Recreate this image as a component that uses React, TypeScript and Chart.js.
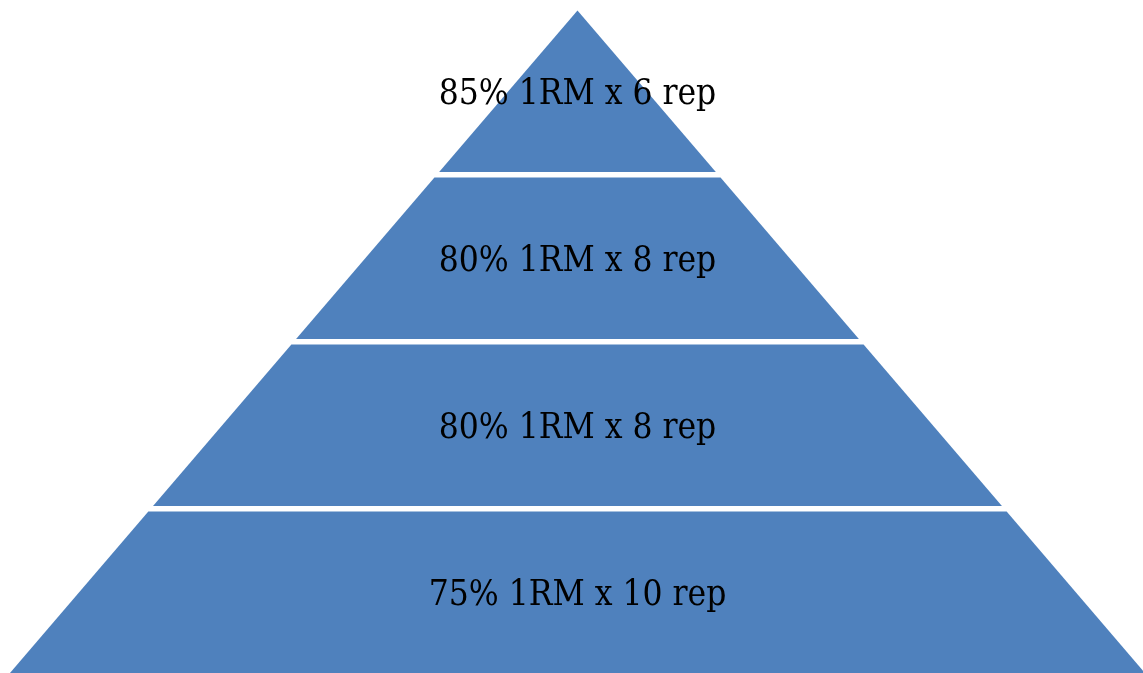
import { useEffect, useRef } from 'react';
import { Chart, registerables } from 'chart.js';

Chart.register(...registerables);

// Levels listed top to bottom
const levelLabels: string[] = ['85% 1RM x 6 rep', '80% 1RM x 8 rep', '80% 1RM x 8 rep', '75% 1RM x 10 rep'];
const levelHeights: number[] = [1, 1, 1, 1];
const levelGap = 0.034;
const xLimits: number[] = [-1.0176, 0.9965];
const yLimits: number[] = [0, 4.167];
const fillColor = '#4F81BD';
const textColor = '#000000';
const fontFamily = '"DejaVu Serif Condensed", "Liberation Serif", serif';
const fontSize = 35;

function buildBands() {
  const bottomUpH = [...levelHeights].reverse();
  const bottomUpL = [...levelLabels].reverse();
  const apex = bottomUpH.reduce((a, b) => a + b, 0) + levelGap * (bottomUpH.length - 1);
  const half = (y: number) => 1 - y / apex;
  const bands: { label: string; y0: number; y1: number; pts: { x: number; y: number }[] }[] = [];
  let y = 0;
  bottomUpH.forEach((h, k) => {
    const y0 = y;
    const y1 = y + h;
    bands.push({
      label: bottomUpL[k],
      y0,
      y1,
      pts: [
        { x: -half(y0), y: y0 },
        { x: half(y0), y: y0 },
        { x: half(y1), y: y1 },
        { x: -half(y1), y: y1 },
      ],
    });
    y = y1 + levelGap;
  });
  return bands;
}

const pyramidPlugin = {
  id: 'pyramidFill',
  beforeDatasetsDraw(chart: any) {
    const ctx = chart.ctx as CanvasRenderingContext2D;
    const xs = chart.scales.x;
    const ys = chart.scales.y;
    const bands = (chart.options.plugins as any).pyramidFill.bands;
    ctx.save();
    chart.data.datasets.forEach((ds: any, i: number) => {
      const meta = chart.getDatasetMeta(i);
      const els = meta.data;
      if (!els.length) return;
      ctx.beginPath();
      ctx.moveTo(els[0].x, els[0].y);
      for (let j = 1; j < els.length; j++) ctx.lineTo(els[j].x, els[j].y);
      ctx.closePath();
      ctx.fillStyle = ds.backgroundColor;
      ctx.fill();
    });
    ctx.font = `${fontSize}px ${fontFamily}`;
    ctx.fillStyle = textColor;
    ctx.textAlign = 'center';
    ctx.textBaseline = 'alphabetic';
    const digitH = ctx.measureText('0').actualBoundingBoxAscent;
    bands.forEach((b: any) => {
      const cx = xs.getPixelForValue(0);
      const cy = ys.getPixelForValue((b.y0 + b.y1) / 2);
      ctx.fillText(b.label, cx, cy + digitH / 2);
    });
    ctx.restore();
  },
};

export default function App() {
  const ref = useRef<HTMLCanvasElement>(null);
  useEffect(() => {
    if (!ref.current) return;
    const bands = buildBands();
    const chart = new Chart(ref.current, {
      type: 'scatter',
      data: {
        datasets: bands.map((b) => ({
          label: b.label,
          data: b.pts,
          backgroundColor: fillColor,
          borderColor: fillColor,
          pointRadius: 0,
          showLine: false,
        })),
      },
      options: {
        animation: false,
        responsive: true,
        maintainAspectRatio: false,
        layout: { padding: 0 },
        events: [],
        scales: {
          x: { type: 'linear', min: xLimits[0], max: xLimits[1], display: false },
          y: { type: 'linear', min: yLimits[0], max: yLimits[1], display: false },
        },
        plugins: {
          legend: { display: false },
          tooltip: { enabled: false },
          pyramidFill: { bands },
        } as any,
      },
      plugins: [pyramidPlugin],
    });
    return () => chart.destroy();
  }, []);
  return (
    <div style={{ position: 'fixed', left: 0, top: 0, width: 1143, height: 673, background: '#fff' }}>
      <canvas ref={ref} />
    </div>
  );
}
